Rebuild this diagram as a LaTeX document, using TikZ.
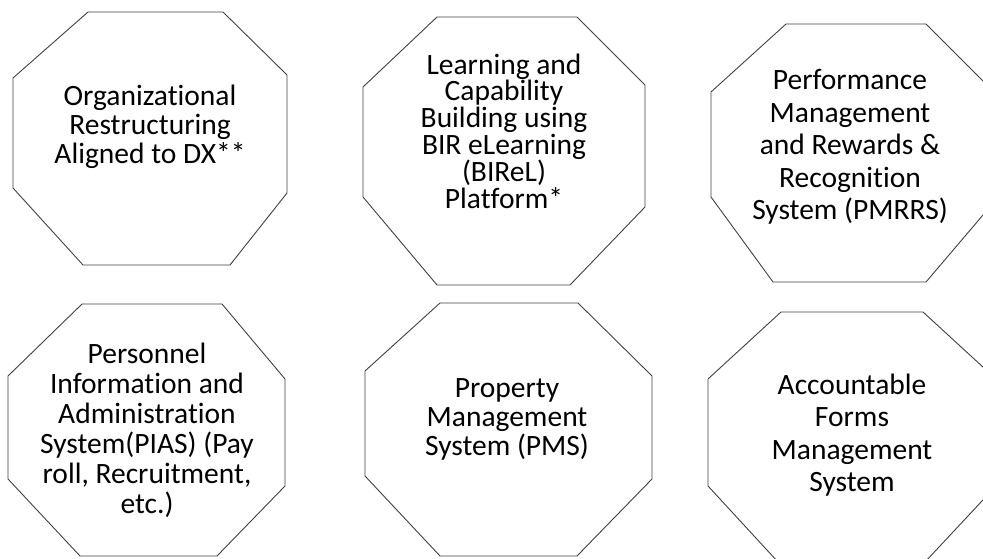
\documentclass[tikz,border=0pt]{standalone}
\usepackage{fontspec}
\setmainfont{Carlito}[Ligatures=NoCommon]
\begin{document}
\begin{tikzpicture}[x=1pt,y=-1pt,
        oct/.style={draw=black!75,line width=0.9pt,line join=round},
        octtext/.style={align=center,inner sep=0pt,
            font=\fontsize{29.5}{#1}\selectfont}]
    \useasboundingbox (0,0) rectangle (983,559);
    \clip (0,0) rectangle (983,559);

    % top row
    \draw[oct] (88,12) -- (223,12) -- (287,75) -- (287,193) -- (230,265)
        -- (83,265) -- (13,188) -- (13,78) -- cycle;
    \draw[oct] (437,17) -- (577,17) -- (645,85) -- (645,207) -- (570,285)
        -- (437,285) -- (363,197) -- (363,87) -- cycle;
    \draw[oct] (786,24) -- (926,24) -- (1000,98) -- (1000,195) -- (926,282)
        -- (773,282) -- (711,197) -- (711,92) -- cycle;

    % bottom row
    \draw[oct] (82,304) -- (222,304) -- (285,379) -- (285,486) -- (217,556)
        -- (80,556) -- (8,479) -- (8,376) -- cycle;
    \draw[oct] (440,303) -- (578,303) -- (652,376) -- (652,479) -- (577,556)
        -- (440,556) -- (365,476) -- (365,371) -- cycle;
    \draw[oct] (781,312) -- (923,312) -- (996,379) -- (996,486) -- (925,562)
        -- (778,562) -- (708,486) -- (708,379) -- cycle;

    \node[octtext=29] (orgrs) at (150,127) {Organizational\\Restructuring\\Aligned to DX**};
    \node[octtext=26.8] (birel) at (504,131) {Learning and\\Capability\\Building using\\BIR eLearning\\(BIReL)\\Platform*};
    \node[octtext=32.5] (pmrrs) at (850,147) {Performance\\Management\\and Rewards \&\\Recognition\\System (PMRRS)};
    \node[octtext=30] (pias) at (147,430) {Personnel\\Information and\\Administration\\System(PIAS) (Pay\\roll, Recruitment,\\etc.)};
    \node[octtext=29] (pms) at (507,419) {Property\\Management\\System (PMS)};
    \node[octtext=32.3] (afms) at (852,435) {Accountable\\Forms\\Management\\System};
\end{tikzpicture}
\end{document}
